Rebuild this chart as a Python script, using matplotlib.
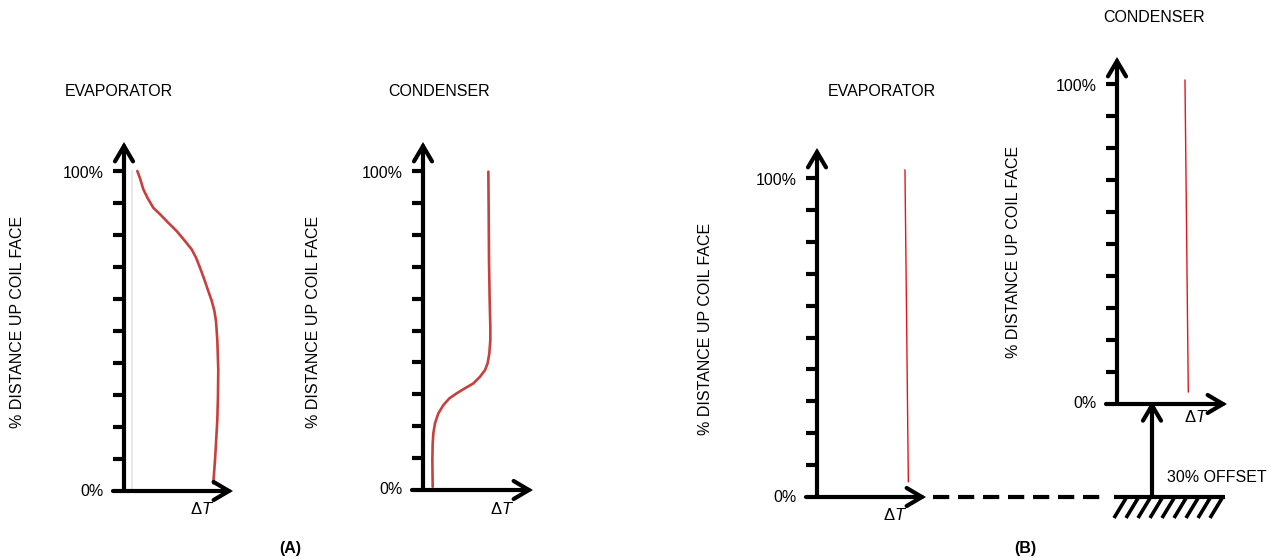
import matplotlib
matplotlib.use("Agg")
import matplotlib.pyplot as plt

plt.rcParams['font.family'] = ['Liberation Sans', 'DejaVu Sans']
plt.rcParams['mathtext.fontset'] = 'custom'
plt.rcParams['mathtext.rm'] = 'Liberation Sans'
plt.rcParams['mathtext.it'] = 'Liberation Sans:italic'

# ---- data (dT as fraction of axis length, height in % of coil face) ----
a_evap_dt = [0.122, 0.147, 0.177, 0.214, 0.269, 0.330, 0.407, 0.484, 0.560,
             0.621, 0.661, 0.697, 0.737, 0.773, 0.805, 0.829, 0.844, 0.856,
             0.865, 0.862, 0.856, 0.844, 0.835, 0.819]
a_evap_h = [100.0, 97.7, 94.3, 91.7, 88.5, 86.5, 83.8, 81.2, 78.1,
            75.5, 72.9, 69.8, 66.1, 62.5, 59.4, 56.3, 53.1, 47.2,
            37.8, 29.5, 22.2, 14.9, 9.7, 2.4]

a_cond_dt = [0.594, 0.597, 0.600, 0.606, 0.612, 0.612, 0.603, 0.588, 0.564,
             0.518, 0.457, 0.382, 0.306, 0.239, 0.185, 0.139, 0.109, 0.094,
             0.088, 0.085, 0.088]
a_cond_h = [99.8, 87.8, 72.1, 59.6, 51.2, 47.0, 42.9, 39.8, 37.6,
            35.5, 33.4, 31.9, 30.3, 28.7, 26.6, 24.0, 20.9, 17.8,
            14.6, 9.4, 1.0]

b_evap_dt = [0.807, 0.838]
b_evap_h = [102.5, 4.8]

b_cond_dt = [0.618, 0.648]
b_cond_h = [101.2, 3.8]

offset_pct = 30
tick_values = list(range(0, 101, 10))
y_label = '% DISTANCE UP COIL FACE'

W, H = 1272, 560
fig = plt.figure(figsize=(W / 100, H / 100), dpi=100)
FS = 11.5
LW = 3


def add_panel(ox, oy, y100, ytop, xtip, dt_drop=13):
    # axes box in pixels: origin (ox, oy), 100% at y100, arrow tips at ytop / xtip
    unit = (oy - y100) / 100.0
    ymax = (oy - ytop) / unit
    ax = fig.add_axes([ox / W, 1 - oy / H, (xtip - ox) / W, (oy - ytop) / H])
    ax.set_xlim(0, 1)
    ax.set_ylim(0, ymax)
    ax.axis('off')
    tl = 11.0 / (xtip - ox)
    for t in tick_values[1:]:
        ax.plot([-tl, 0], [t, t], color='k', lw=LW, solid_capstyle='butt',
                clip_on=False)
    arrow = dict(arrowstyle='->,head_length=1.1,head_width=0.65', lw=LW,
                 color='k', shrinkA=0, shrinkB=0, joinstyle='miter')
    ax.annotate('', xy=(0, ymax), xytext=(0, 0), arrowprops=arrow,
                annotation_clip=False)
    ax.annotate('', xy=(1, 0), xytext=(-tl, 0), arrowprops=arrow,
                annotation_clip=False)
    ax.annotate('100%', xy=(0, 100), xytext=(-14.5, -2), textcoords='offset points',
                ha='right', va='center', fontsize=FS, annotation_clip=False)
    ax.annotate('0%', xy=(0, 0), xytext=(-14.5, 0), textcoords='offset points',
                ha='right', va='center', fontsize=FS, annotation_clip=False)
    ax.annotate(r'$\Delta T$', xy=(0.72, 0), xytext=(0, -dt_drop),
                textcoords='offset points', ha='center', va='center',
                fontsize=FS + 0.5, annotation_clip=False)
    return ax


# ---- (A) ----
ax1 = add_panel(124, 491, 171, 142, 233)
ax1.plot([0.07, 0.07], [0, 100], color='#e4e4e4', lw=1.2)
ax1.plot(a_evap_dt, a_evap_h, color='#c8403d', lw=1.9, solid_joinstyle='round',
         solid_capstyle='round')

ax2 = add_panel(423, 490, 171, 142, 533, dt_drop=14)
ax2.plot(a_cond_dt, a_cond_h, color='#c8403d', lw=1.9, solid_joinstyle='round',
         solid_capstyle='round')

# ---- (B) ----
ax3 = add_panel(817, 497, 178, 148, 926, dt_drop=13)
ax3.plot(b_evap_dt, b_evap_h, color='#e3161b', lw=1)

ax4 = add_panel(1117, 404, 84, 57, 1227, dt_drop=9)
ax4.plot(b_cond_dt, b_cond_h, color='#e3161b', lw=1)

# connector, ground and offset arrow in evaporator (B) coordinates
px_x = 1 / 109.0
px_y = 100 / 319.0
ax3.plot([(933 - 817) * px_x, (1106 - 817) * px_x], [0, 0], color='k', lw=LW,
         ls=(0, (3.9, 2.1)), dash_capstyle='butt', clip_on=False)
ax3.plot([(1114 - 817) * px_x, (1225 - 817) * px_x], [0, 0], color='k', lw=LW,
         solid_capstyle='butt', clip_on=False)
for i in range(9):
    xt = (1126 + 12 * i - 817) * px_x
    ax3.plot([xt, xt - 12 * px_x], [-1.2 * px_y, -21 * px_y], color='k',
             lw=2.6, solid_capstyle='butt', clip_on=False)
xo = (1152 - 817) * px_x
ax3.annotate('', xy=(xo, offset_pct), xytext=(xo, 0), annotation_clip=False,
             arrowprops=dict(arrowstyle='->,head_length=1.1,head_width=0.65',
                             lw=LW, color='k', shrinkA=0, shrinkB=0))

# ---- texts ----
def ftext(x, y, s, **kw):
    fig.text(x / W, 1 - y / H, s, fontsize=FS, **kw)


ftext(119, 91, 'EVAPORATOR', ha='center', va='center')
ftext(439, 91, 'CONDENSER', ha='center', va='center')
ftext(882, 91, 'EVAPORATOR', ha='center', va='center')
ftext(1154, 17, 'CONDENSER', ha='center', va='center')

ftext(18, 322, y_label, ha='center', va='center', rotation=90)
ftext(314, 322, y_label, ha='center', va='center', rotation=90)
ftext(705, 329, y_label, ha='center', va='center', rotation=90)
ftext(1014, 252, y_label, ha='center', va='center', rotation=90)

ftext(1167, 477, '30% OFFSET', ha='left', va='center')
ftext(290, 549, '(A)', ha='center', va='center', fontweight='bold')
ftext(1025, 549, '(B)', ha='center', va='center', fontweight='bold')

fig.savefig('out.png', dpi=100)
